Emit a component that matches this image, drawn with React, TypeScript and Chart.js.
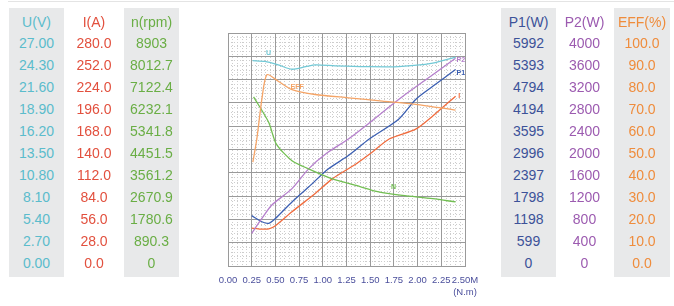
import React, { useEffect, useRef } from "react";
import { Chart, registerables } from "chart.js";
Chart.register(...registerables);

// ---- table tick labels ----
const uTicks = ["27.00", "24.30", "21.60", "18.90", "16.20", "13.50", "10.80", "8.10", "5.40", "2.70", "0.00"];
const iTicks = ["280.0", "252.0", "224.0", "196.0", "168.0", "140.0", "112.0", "84.0", "56.0", "28.0", "0.0"];
const nTicks = ["8903", "8012.7", "7122.4", "6232.1", "5341.8", "4451.5", "3561.2", "2670.9", "1780.6", "890.3", "0"];
const p1Ticks = ["5992", "5393", "4794", "4194", "3595", "2996", "2397", "1798", "1198", "599", "0"];
const p2Ticks = ["4000", "3600", "3200", "2800", "2400", "2000", "1600", "1200", "800", "400", "0"];
const effTicks = ["100.0", "90.0", "80.0", "70.0", "60.0", "50.0", "40.0", "30.0", "20.0", "10.0", "0.0"];

// ---- series (torque in N.m, values in physical units) ----
const uTorque = [0.26, 0.39, 0.53, 0.675, 0.82, 0.92, 1.13, 1.45, 1.8, 2.16, 2.4];
const uValues = [23.8, 23.7, 23.3, 22.8, 23.1, 23.3, 23.2, 23.1, 23.1, 23.5, 24.2];

const effTorque = [0.262, 0.304, 0.357, 0.41, 0.53, 0.675, 0.92, 1.27, 1.63, 1.98, 2.4];
const effValues = [44.6, 54.5, 71.5, 82.1, 79.3, 75.7, 73.6, 72.2, 70.8, 69.4, 66.9];

const nTorque = [0.27, 0.43, 0.51, 0.675, 0.85, 1.1, 1.35, 1.59, 1.84, 2.16, 2.4];
const nValues = [6464, 5484, 4656, 4024, 3713, 3330, 3080, 2831, 2698, 2573, 2448];

const p2Torque = [0.25, 0.357, 0.46, 0.675, 0.85, 1.03, 1.27, 1.45, 1.8, 2.16, 2.4];
const p2Values = [560, 816, 1044, 1328, 1668, 1924, 2180, 2404, 2860, 3284, 3568];

const p1Torque = [0.25, 0.357, 0.43, 0.5, 0.675, 0.85, 1.06, 1.27, 1.49, 1.8, 1.98, 2.16, 2.4];
const p1Values = [1294, 1138, 1097, 1222, 1648, 2031, 2499, 2840, 3266, 3775, 4284, 4620, 5051];

const iTorque = [0.25, 0.32, 0.43, 0.5, 0.675, 0.92, 1.1, 1.35, 1.52, 1.7, 1.98, 2.16, 2.4];
const iValues = [45.4, 44.5, 44.5, 48.4, 65.2, 87.1, 104.7, 122.6, 136.6, 152.6, 164.4, 180.3, 204.1];

const C = {
  u: "#5bbccc",
  i: "#e2503e",
  n: "#6aae45",
  p1: "#3c5299",
  p2: "#9c5bb0",
  eff: "#ef8c3c",
};
const LINE = {
  u: "#72c9d6",
  i: "#f06c3e",
  n: "#72bf52",
  p1: "#3b5fb2",
  p2: "#b57fcc",
  eff: "#f5a466",
};

// curve name labels, anchored in (torque, grid-unit) coordinates
const curveLabels = [
  { text: "U", x: 0.4, y: 9.15, color: LINE.u },
  { text: "EFF", x: 0.66, y: 7.7, color: LINE.eff },
  { text: "N", x: 1.72, y: 3.4, color: LINE.n },
  { text: "P2", x: 2.41, y: 8.85, color: LINE.p2 },
  { text: "P1", x: 2.41, y: 8.26, color: LINE.p1 },
  { text: "I", x: 2.43, y: 7.28, color: LINE.i },
];

const toXY = (xs: number[], ys: number[]) => xs.map((x, k) => ({ x, y: ys[k] }));

function Column(props: { left: number; width: number; bg?: string; color: string; header: string; values: string[] }) {
  const { left, width, bg, color, header, values } = props;
  return (
    <div
      style={{
        position: "absolute",
        left,
        top: 8,
        width,
        height: 269,
        background: bg || "transparent",
        color,
        fontFamily: "'Liberation Sans', Arial, sans-serif",
        fontSize: 14,
        textAlign: "center",
      }}
    >
      <div style={{ position: "absolute", left: 0, width, top: 14 - 8, height: 16, lineHeight: "16px" }}>{header}</div>
      {values.map((v, k) => (
        <div key={k} style={{ position: "absolute", left: 0, width, top: 35 - 8 + k * 22, height: 16, lineHeight: "16px" }}>
          {v}
        </div>
      ))}
    </div>
  );
}

export default function App() {
  const ref = useRef<HTMLCanvasElement | null>(null);
  useEffect(() => {
    if (!ref.current) return;
    const labelPlugin = {
      id: "curveLabels",
      afterDatasetsDraw(chart: any) {
        const ctx = chart.ctx;
        const xs = chart.scales.x;
        const ys = chart.scales.yg;
        ctx.save();
        ctx.font = "bold 7px 'Liberation Sans', Arial, sans-serif";
        ctx.textBaseline = "middle";
        ctx.textAlign = "left";
        curveLabels.forEach((l) => {
          ctx.fillStyle = l.color;
          ctx.fillText(l.text, xs.getPixelForValue(l.x), ys.getPixelForValue(l.y));
        });
        ctx.restore();
      },
    };
    const ds = (data: any[], color: string, axis: string) => ({
      data,
      borderColor: color,
      backgroundColor: color,
      borderWidth: 1.3,
      pointRadius: 0,
      tension: 0.25,
      yAxisID: axis,
      xAxisID: "x",
    });
    const hidden = (max: number) => ({ type: "linear", display: false, min: 0, max });
    const chart = new Chart(ref.current, {
      type: "line",
      data: {
        datasets: [
          ds(toXY(uTorque, uValues), LINE.u, "yU"),
          ds(toXY(effTorque, effValues), LINE.eff, "yE"),
          ds(toXY(nTorque, nValues), LINE.n, "yN"),
          ds(toXY(p2Torque, p2Values), LINE.p2, "yP2"),
          ds(toXY(p1Torque, p1Values), LINE.p1, "yP1"),
          ds(toXY(iTorque, iValues), LINE.i, "yI"),
        ],
      },
      options: {
        animation: false,
        responsive: false,
        parsing: true,
        layout: { padding: { left: 228, right: 209, top: 33, bottom: 0 } },
        plugins: { legend: { display: false }, tooltip: { enabled: false } },
        scales: {
          xm: {
            type: "linear",
            position: "top",
            min: 0,
            max: 2.5,
            ticks: { display: false, stepSize: 0.05 },
            grid: { color: "#cdcdcd", drawTicks: false, lineWidth: 1 },
            border: { display: false, dash: [1, 2] },
            afterFit: (s: any) => {
              s.height = 0;
            },
          },
          ygm: {
            type: "linear",
            position: "right",
            min: 0,
            max: 10,
            ticks: { display: false, stepSize: 0.2 },
            grid: { color: "#cdcdcd", drawTicks: false, lineWidth: 1 },
            border: { display: false, dash: [1, 2] },
            afterFit: (s: any) => {
              s.width = 0;
            },
          },
          x: {
            type: "linear",
            position: "bottom",
            min: 0,
            max: 2.5,
            afterFit: (s: any) => {
              s.height = 40;
            },
            ticks: {
              stepSize: 0.25,
              autoSkip: false,
              maxRotation: 0,
              padding: 9,
              color: "#4b4f9c",
              font: { family: "'Liberation Sans Narrow', 'Liberation Sans', Arial", size: 9.5 },
              callback: (v: any) => (Math.abs(v - 2.5) < 1e-9 ? ["2.50M", "(N.m)"] : Number(v).toFixed(2)),
            },
            grid: { color: "#9a9a9a", drawTicks: false, lineWidth: 1 },
            border: { color: "#9a9a9a" },
          },
          yg: {
            type: "linear",
            position: "left",
            min: 0,
            max: 10,
            afterFit: (s: any) => {
              s.width = 0;
            },
            ticks: { display: false, stepSize: 1 },
            grid: { color: "#9a9a9a", drawTicks: false, lineWidth: 1 },
            border: { color: "#9a9a9a" },
          },
          yU: hidden(27),
          yI: hidden(280),
          yN: hidden(8903),
          yP1: hidden(5992),
          yP2: hidden(4000),
          yE: hidden(100),
        },
      } as any,
      plugins: [labelPlugin],
    });
    return () => chart.destroy();
  }, []);

  return (
    <div style={{ position: "absolute", left: 0, top: 0, width: 674, height: 306, background: "#fff", overflow: "hidden" }}>
      <div style={{ position: "absolute", left: 8, top: 1, width: 666, height: 1, background: "#e4e4e4" }} />
      <canvas ref={ref} width={674} height={306} style={{ position: "absolute", left: 0, top: 0, width: 674, height: 306 }} />
      <Column left={9} width={55} bg="#e8e9ea" color={C.u} header="U(V)" values={uTicks} />
      <Column left={66} width={56} color={C.i} header="I(A)" values={iTicks} />
      <Column left={124} width={55} bg="#e8e9ea" color={C.n} header="n(rpm)" values={nTicks} />
      <Column left={501} width={55} bg="#e8e9ea" color={C.p1} header="P1(W)" values={p1Ticks} />
      <Column left={557} width={55} color={C.p2} header="P2(W)" values={p2Ticks} />
      <Column left={614} width={56} bg="#e8e9ea" color={C.eff} header="EFF(%)" values={effTicks} />
    </div>
  );
}
